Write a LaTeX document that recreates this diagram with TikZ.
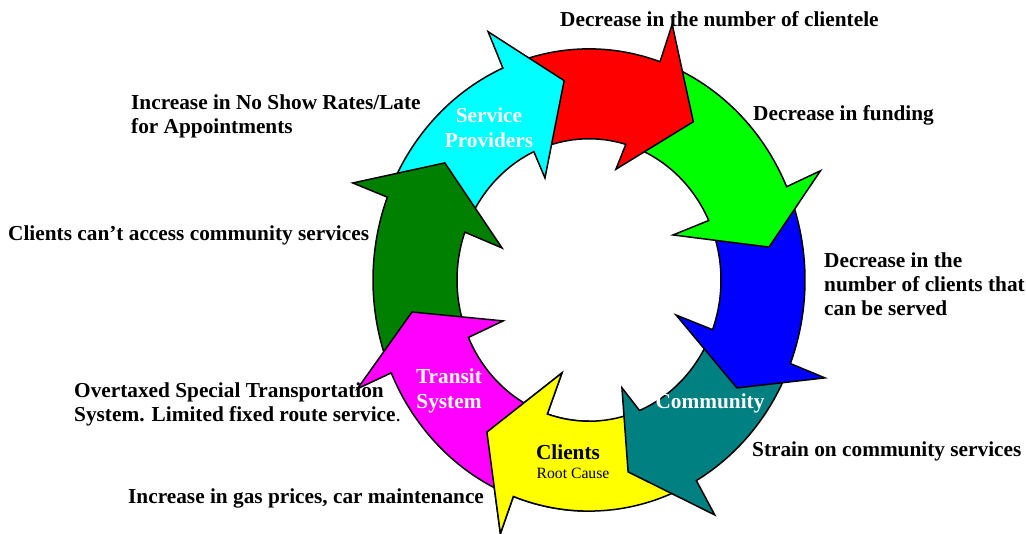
\documentclass[tikz,border=0pt]{standalone}
\usepackage{fontspec}
\setmainfont{Liberation Serif}
\usepackage{tikz}
\usetikzlibrary{positioning}

% one curved arrow of the ring:
% colour, tail (outer, inner), base (outer, inner), inner barb, tip
\newcommand{\ringarrow}[7]{%
\filldraw[ring,fill=#1] (#2:216) arc[start angle=#2,end angle=#4,radius=216]
  -- (#4:253) -- #7 -- #6 -- (#5:132)
  arc[start angle=#5,end angle=#3,radius=132] -- cycle;}

\definecolor{ringyellow}{RGB}{255,255,0}
\definecolor{ringmagenta}{RGB}{255,0,255}
\definecolor{ringdkgreen}{RGB}{0,128,0}
\definecolor{ringcyan}{RGB}{0,255,255}
\definecolor{ringred}{RGB}{255,0,0}
\definecolor{ringgreen}{RGB}{0,255,0}
\definecolor{ringblue}{RGB}{0,0,255}
\definecolor{ringteal}{RGB}{0,128,128}

\begin{document}
\begin{tikzpicture}[x=1pt,y=1pt,
  ring/.style={draw=black,line width=1.5pt,line join=miter},
  effect/.style={font=\bfseries\fontsize{21.3}{24}\selectfont,align=left,anchor=west,inner sep=0pt},
  stage/.style={font=\bfseries\fontsize{21.3}{25}\selectfont,align=center,inner sep=0pt,text=white}]
\useasboundingbox (0,0) rectangle (1026,534);

% effects around the ring
\node[effect] (clientele) at (560,515) {Decrease in the number of clientele};
\node[effect] (funding) at (753,419) {Decrease in funding};
\node[effect] (served) at (824,250) {Decrease in the\\number of clients that\\can be served};
\node[effect] (strain) at (752,83) {Strain on community services};
\node[effect] (gas) at (128,36) {Increase in gas prices, car maintenance};
\node[effect] (overtaxed) at (74,129.5) {Overtaxed Special Transportation\\System. Limited fixed route service{\mdseries.}};
\node[effect] (access) at (8,299) {Clients can't access community services};
\node[effect] (noshow) at (131,417.5) {Increase in No Show Rates/Late\\for Appointments};

% the ring of arrows
\begin{scope}[shift={(589,254)},yscale=1.07]
\ringarrow{ringyellow}{-65}{-70.5}{-110.5}{-108.4}{(-107.3:91)}{(-125.7:175)}
\ringarrow{ringteal}{-24.5}{-23.7}{-60.2}{-67.5}{(-71.9:106)}{(-77.7:183.6)}
\ringarrow{ringblue}{20}{22}{-21.2}{-20.6}{(-20.6:93)}{(-34.3:179)}
\ringarrow{ringgreen}{66}{71}{23.8}{24.9}{(26.6:94)}{(9.7:182.6)}
\ringarrow{ringred}{107}{111}{70.8}{73.8}{(75.4:107)}{(54.8:181)}
\ringarrow{ringcyan}{155}{156.5}{113.5}{114.7}{(114.8:105)}{(97.6:188)}
\ringarrow{ringdkgreen}{200.5}{201}{159}{160.2}{(161:92)}{(142.8:181)}
\ringarrow{ringmagenta}{246}{247.5}{203.7}{204}{(204:94)}{(189.6:179.5)}
% yellow head goes over the magenta tail
\begin{scope}
\clip (-300,-300) rectangle (0,0);
\ringarrow{ringyellow}{-65}{-70.5}{-110.5}{-108.4}{(-107.3:91)}{(-125.7:175)}
\end{scope}
\end{scope}

% stage names
\node[stage] (providers) at (489,406.5) {Service\\Providers};
\node[stage] (transit) at (449,143) {Transit\\System};
\node[stage] (community) at (710,131) {Community};
\node[stage,text=black] (clients) at (568,82) {Clients};
\node[inner sep=0pt,font=\fontsize{15.7}{18}\selectfont] (rootcause) at (573,61) {Root Cause};

\end{tikzpicture}
\end{document}
